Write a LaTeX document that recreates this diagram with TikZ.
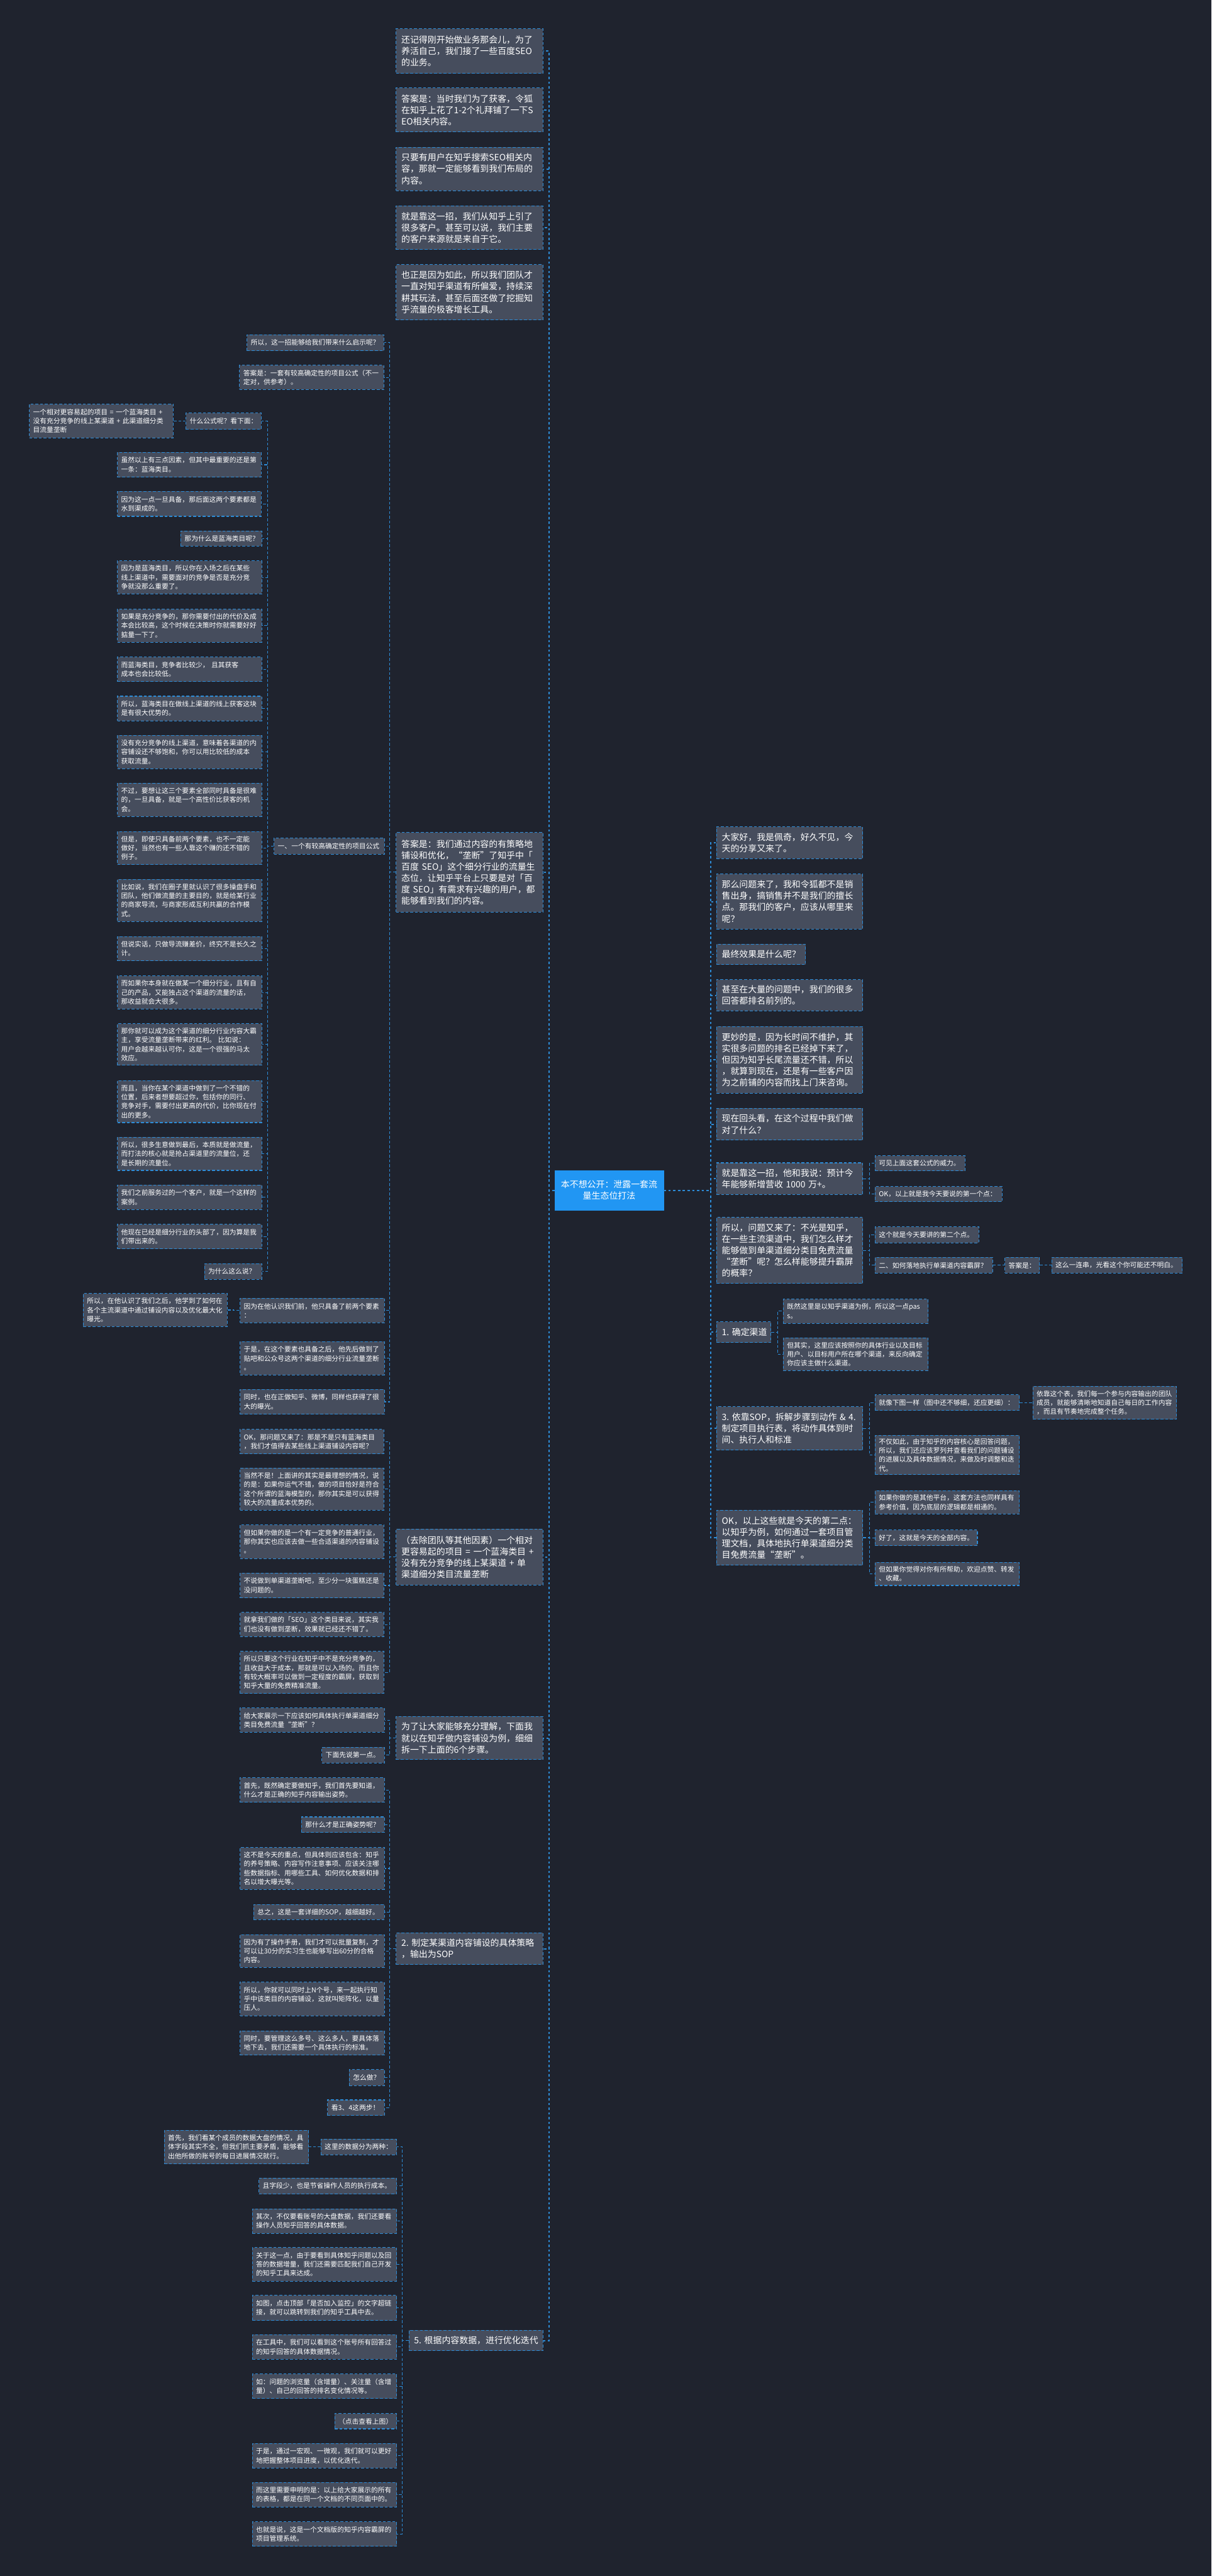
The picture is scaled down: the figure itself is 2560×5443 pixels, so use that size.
\documentclass[tikz,border=0pt]{standalone}
\usepackage{fontspec}
\setmainfont{Noto Sans CJK SC}
\definecolor{bgc}{RGB}{31,35,46}
\definecolor{nodec}{RGB}{70,77,93}
\definecolor{bordc}{RGB}{45,140,215}
\definecolor{centc}{RGB}{33,150,243}
\tikzset{
 bx/.style={draw=bordc, fill=nodec, dash pattern=on 3pt off 2pt, line width=0.7pt, text=white, align=left, inner ysep=0pt},
 l1/.style={bx, inner xsep=5.5pt, font=\fontsize{9.25pt}{12pt}\selectfont},
 l2/.style={bx, inner xsep=4pt, font=\fontsize{7.15pt}{9.5pt}\selectfont},
 cn/.style={draw=bordc, line width=0.7pt, dash pattern=on 3pt off 2pt},
 mc/.style={draw=bordc, line width=1.3pt, dash pattern=on 2.4pt off 2.6pt},
 ctr/.style={fill=centc, draw=centc, text=white, align=center, inner xsep=6pt, font=\fontsize{9.25pt}{12pt}\selectfont},
}
\newcommand\nA[6]{\pgfmathsetmacro\bw{(#4-#2)*0.5}\pgfmathsetmacro\bh{(#5-#3)*0.5}\pgfmathsetmacro\btw{\bw-11}%
\node[l1,minimum width=\bw pt,minimum height=\bh pt,text width=\btw pt] (#1) at ({(#2+#4)/2},{(#3+#5)/2}) {#6};}
\newcommand\nB[6]{\pgfmathsetmacro\bw{(#4-#2)*0.5}\pgfmathsetmacro\bh{(#5-#3)*0.5}\pgfmathsetmacro\btw{\bw-8}%
\node[l2,minimum width=\bw pt,minimum height=\bh pt,text width=\btw pt] (#1) at ({(#2+#4)/2},{(#3+#5)/2}) {#6};}
\newcommand\lk[2]{\draw[cn] (#1.west) -- ++(-13,0) |- (#2.east);}
\newcommand\rk[2]{\draw[cn] (#1.east) -- ++(13,0) |- (#2.west);}
\begin{document}
\begin{tikzpicture}[x=0.5pt,y=-0.5pt]
\useasboundingbox (0,0) rectangle (2560,5443);
\fill[bgc] (0,0) rectangle (2560,5443);
% center
\node[ctr, minimum width=115pt, minimum height=42pt, text width=103pt] (C) at (1287,2515) {本不想公开：泄露一套流\\量生态位打法};
% left level 1
\nA{L1}{837}{61}{1147}{155}{还记得刚开始做业务那会儿，为了\\养活自己，我们接了一些百度SEO\\的业务。}
\nA{L2}{837}{186}{1147}{279}{答案是：当时我们为了获客，令狐\\在知乎上花了1-2个礼拜铺了一下S\\EO相关内容。}
\nA{L3}{837}{311}{1147}{403}{只要有用户在知乎搜索SEO相关内\\容，那就一定能够看到我们布局的\\内容。}
\nA{L4}{837}{435}{1147}{527}{就是靠这一招，我们从知乎上引了\\很多客户。甚至可以说，我们主要\\的客户来源就是来自于它。}
\nA{L5}{837}{559}{1147}{676}{也正是因为如此，所以我们团队才\\一直对知乎渠道有所偏爱，持续深\\耕其玩法，甚至后面还做了挖掘知\\乎流量的极客增长工具。}
\nA{L6}{837}{1759}{1147}{1927}{答案是：我们通过内容的有策略地\\铺设和优化，“垄断”了知乎中「\\百度~SEO」这个细分行业的流量生\\态位，让知乎平台上只要是对「百\\度~SEO」有需求有兴趣的用户，都\\能够看到我们的内容。}
\nA{L7}{837}{3231}{1147}{3349}{（去除团队等其他因素）一个相对\\更容易起的项目~=~一个蓝海类目~+\\没有充分竞争的线上某渠道~+~单\\渠道细分类目流量垄断}
\nA{L8}{837}{3627}{1147}{3718}{为了让大家能够充分理解，下面我\\就以在知乎做内容铺设为例，细细\\拆一下上面的6个步骤。}
\nA{L9}{837}{4084}{1147}{4151}{2.~制定某渠道内容铺设的具体策略\\，输出为SOP}
\nA{L10}{864}{4924}{1147}{4967}{5.~根据内容数据，进行优化迭代}
% L6 children
\nB{A1}{522}{707}{811}{741}{所以，这一招能够给我们带来什么启示呢？}
\nB{A2}{506}{772}{811}{823}{答案是：一套有较高确定性的项目公式（不一\\定对，供参考）。}
\nB{A3}{579}{1771}{812}{1805}{一、一个有较高确定性的项目公式}
\nB{A4}{507}{2743}{812}{2795}{因为在他认识我们前，他只具备了前两个要素\\：}
\nB{A4a}{176}{2733}{480}{2803}{所以，在他认识了我们之后，他学到了如何在\\各个主流渠道中通过铺设内容以及优化最大化\\曝光。}
\nB{A5}{507}{2835}{812}{2905}{于是，在这个要素也具备之后，他先后做到了\\贴吧和公众号这两个渠道的细分行业流量垄断\\。}
\nB{A6}{507}{2936}{812}{2988}{同时，也在正做知乎、微博，同样也获得了很\\大的曝光。}
% A3 children
\nB{B1}{393}{873}{552}{907}{什么公式呢？看下面：}
\nB{B1a}{62}{854}{366}{925}{一个相对更容易起的项目~=~一个蓝海类目~+\\没有充分竞争的线上某渠道~+~此渠道细分类\\目流量垄断}
\nB{B2}{248}{956}{552}{1008}{虽然以上有三点因素，但其中最重要的还是第\\一条：蓝海类目。}
\nB{B3}{248}{1038}{552}{1091}{因为这一点一旦具备，那后面这两个要素都是\\水到渠成的。}
\nB{B4}{382}{1122}{553}{1154}{那为什么是蓝海类目呢？}
\nB{B5}{248}{1185}{553}{1255}{因为是蓝海类目，所以你在入场之后在某些\\线上渠道中，需要面对的竞争是否是充分竞\\争就没那么重要了。}
\nB{B6}{248}{1287}{553}{1357}{如果是充分竞争的，那你需要付出的代价及成\\本会比较高，这个时候在决策时你就需要好好\\掂量一下了。}
\nB{B7}{248}{1388}{553}{1440}{而蓝海类目，竞争者比较少，\ 且其获客\\成本也会比较低。}
\nB{B8}{248}{1471}{553}{1523}{所以，蓝海类目在做线上渠道的线上获客这块\\是有很大优势的。}
\nB{B9}{248}{1554}{553}{1624}{没有充分竞争的线上渠道，意味着各渠道的内\\容铺设还不够饱和，你可以用比较低的成本\\获取流量。}
\nB{B10}{248}{1655}{553}{1725}{不过，要想让这三个要素全部同时具备是很难\\的，一旦具备，就是一个高性价比获客的机\\会。}
\nB{B11}{248}{1757}{553}{1827}{但是，即使只具备前两个要素，也不一定能\\做好，当然也有一些人靠这个赚的还不错的\\例子。}
\nB{B12}{248}{1858}{553}{1947}{比如说，我们在圈子里就认识了很多操盘手和\\团队，他们做流量的主要目的，就是给某行业\\的商家导流，与商家形成互利共赢的合作模\\式。}
\nB{B13}{248}{1979}{553}{2030}{但说实话，只做导流赚差价，终究不是长久之\\计。}
\nB{B14}{248}{2062}{553}{2132}{而如果你本身就在做某一个细分行业，且有自\\己的产品，又能独占这个渠道的流量的话，\\那收益就会大很多。}
\nB{B15}{248}{2163}{553}{2251}{那你就可以成为这个渠道的细分行业内容大霸\\主，享受流量垄断带来的红利。\ 比如说：\\用户会越来越认可你，这是一个很强的马太\\效应。}
\nB{B16}{248}{2283}{553}{2372}{而且，当你在某个渠道中做到了一个不错的\\位置，后来者想要超过你，包括你的同行、\\竞争对手，需要付出更高的代价，比你现在付\\出的更多。}
\nB{B17}{248}{2403}{553}{2473}{所以，很多生意做到最后，本质就是做流量，\\而打法的核心就是抢占渠道里的流量位，还\\是长期的流量位。}
\nB{B18}{248}{2504}{553}{2556}{我们之前服务过的一个客户，就是一个这样的\\案例。}
\nB{B19}{248}{2587}{553}{2639}{他现在已经是细分行业的头部了，因为算是我\\们带出来的。}
\nB{B20}{432}{2670}{553}{2703}{为什么这么说？}
% L7 children
\nB{C1}{507}{3020}{811}{3072}{OK，那问题又来了：那是不是只有蓝海类目\\，我们才值得去某些线上渠道铺设内容呢？}
\nB{C2}{507}{3102}{811}{3191}{当然不是！上面讲的其实是最理想的情况，说\\的是：如果你运气不错，做的项目恰好是符合\\这个所谓的蓝海模型的，那你其实是可以获得\\较大的流量成本优势的。}
\nB{C3}{507}{3222}{811}{3293}{但如果你做的是一个有一定竞争的普通行业，\\那你其实也应该去做一些合适渠道的内容铺设\\。}
\nB{C4}{507}{3324}{811}{3376}{不说做到单渠道垄断吧，至少分一块蛋糕还是\\没问题的。}
\nB{C5}{507}{3407}{811}{3458}{就拿我们做的「SEO」这个类目来说，其实我\\们也没有做到垄断，效果就已经还不错了。}
\nB{C6}{507}{3489}{811}{3578}{所以只要这个行业在知乎中不是充分竞争的，\\且收益大于成本，那就是可以入场的。而且你\\有较大概率可以做到一定程度的霸屏，获取到\\知乎大量的免费精准流量。}
% L8 children
\nB{D1}{507}{3609}{812}{3660}{给大家展示一下应该如何具体执行单渠道细分\\类目免费流量“垄断”？}
\nB{D2}{680}{3692}{812}{3725}{下面先说第一点。}
% L9 children
\nB{E1}{507}{3756}{812}{3808}{首先，既然确定要做知乎，我们首先要知道，\\什么才是正确的知乎内容输出姿势。}
\nB{E2}{637}{3839}{812}{3872}{那什么才是正确姿势呢？}
\nB{E3}{507}{3904}{812}{3992}{这不是今天的重点，但具体则应该包含：知乎\\的养号策略、内容写作注意事项、应该关注哪\\些数据指标、用哪些工具、如何优化数据和排\\名以增大曝光等。}
\nB{E4}{536}{4024}{812}{4056}{总之，这是一套详细的SOP，越细越好。}
\nB{E5}{507}{4088}{812}{4157}{因为有了操作手册，我们才可以批量复制，才\\可以让30分的实习生也能够写出60分的合格\\内容。}
\nB{E6}{507}{4188}{812}{4259}{所以，你就可以同时上N个号，来一起执行知\\乎中该类目的内容铺设，这就叫矩阵化，以量\\压人。}
\nB{E7}{507}{4291}{812}{4342}{同时，要管理这么多号、这么多人，要具体落\\地下去，我们还需要一个具体执行的标准。}
\nB{E8}{738}{4373}{812}{4407}{怎么做？}
\nB{E9}{692}{4437}{812}{4470}{看3、4这两步！}
% L10 children
\nB{F1}{678}{4520}{838}{4553}{这里的数据分为两种：}
\nB{F1a}{347}{4501}{652}{4572}{首先，我们看某个成员的数据大盘的情况，具\\体字段其实不全，但我们抓主要矛盾，能够看\\出他所做的账号的每日进展情况就行。}
\nB{F2}{547}{4602}{838}{4636}{且字段少，也是节省操作人员的执行成本。}
\nB{F3}{533}{4667}{838}{4719}{其次，不仅要看账号的大盘数据，我们还要看\\操作人员知乎回答的具体数据。}
\nB{F4}{533}{4749}{838}{4820}{关于这一点，由于要看到具体知乎问题以及回\\答的数据增量，我们还需要匹配我们自己开发\\的知乎工具来达成。}
\nB{F5}{533}{4850}{838}{4903}{如图，点击顶部「是否加入监控」的文字超链\\接，就可以跳转到我们的知乎工具中去。}
\nB{F6}{533}{4933}{838}{4985}{在工具中，我们可以看到这个账号所有回答过\\的知乎回答的具体数据情况。}
\nB{F7}{533}{5016}{838}{5068}{如：问题的浏览量（含增量）、关注量（含增\\量）、自己的回答的排名变化情况等。}
\nB{F8}{707}{5100}{838}{5132}{（点击查看上图）}
\nB{F9}{533}{5163}{838}{5215}{于是，通过一宏观、一微观，我们就可以更好\\地把握整体项目进度，以优化迭代。}
\nB{F10}{533}{5245}{838}{5297}{而这里需要申明的是：以上给大家展示的所有\\的表格，都是在同一个文档的不同页面中的。}
\nB{F11}{533}{5328}{838}{5380}{也就是说，这是一个文档版的知乎内容霸屏的\\项目管理系统。}
% right level 1
\nA{R1}{1514}{1747}{1823}{1814}{大家好，我是佩奇，好久不见，今\\天的分享又来了。}
\nA{R2}{1514}{1847}{1823}{1963}{那么问题来了，我和令狐都不是销\\售出身，搞销售并不是我们的擅长\\点。那我们的客户，应该从哪里来\\呢？}
\nA{R3}{1514}{1995}{1702}{2038}{最终效果是什么呢？}
\nA{R4}{1514}{2070}{1823}{2136}{甚至在大量的问题中，我们的很多\\回答都排名前列的。}
\nA{R5}{1514}{2169}{1823}{2310}{更妙的是，因为长时间不维护，其\\实很多问题的排名已经掉下来了，\\但因为知乎长尾流量还不错，所以\\，就算到现在，还是有一些客户因\\为之前铺的内容而找上门来咨询。}
\nA{R6}{1514}{2342}{1823}{2409}{现在回头看，在这个过程中我们做\\对了什么？}
\nA{R7}{1514}{2457}{1823}{2524}{就是靠这一招，他和我说：预计今\\年能够新增营收~1000~万+。}
\nA{R8}{1514}{2572}{1823}{2712}{所以，问题又来了：不光是知乎，\\在一些主流渠道中，我们怎么样才\\能够做到单渠道细分类目免费流量\\“垄断”呢？怎么样能够提升霸屏\\的概率？}
\nA{R9}{1514}{2793}{1629}{2837}{1.~确定渠道}
\nA{R10}{1514}{2972}{1823}{3064}{3.~依靠SOP，拆解步骤到动作~\&~4.\\制定项目执行表，将动作具体到时\\间、执行人和标准}
\nA{R11}{1514}{3191}{1823}{3307}{OK，以上这些就是今天的第二点：\\以知乎为例，如何通过一套项目管\\理文档，具体地执行单渠道细分类\\目免费流量“垄断”。}
% right children
\nB{R7a}{1849}{2442}{2039}{2474}{可见上面这套公式的威力。}
\nB{R7b}{1849}{2507}{2117}{2539}{OK，以上就是我今天要说的第一个点：}
\nB{R8a}{1849}{2592}{2068}{2626}{这个就是今天要讲的第二个点。}
\nB{R8b}{1849}{2657}{2097}{2690}{二、如何落地执行单渠道内容霸屏？}
\nB{R8c}{2123}{2657}{2196}{2690}{答案是：}
\nB{R8d}{2222}{2657}{2498}{2690}{这么一连串，光看这个你可能还不明白。}
\nB{R9a}{1655}{2745}{1961}{2796}{既然这里是以知乎渠道为例，所以这一点pas\\s。}
\nB{R9b}{1655}{2827}{1961}{2896}{但其实，这里应该按照你的具体行业以及目标\\用户、以目标用户所在哪个渠道，来反向确定\\你应该主做什么渠道。}
\nB{R10a}{1849}{2947}{2154}{2980}{就像下图一样（图中还不够细，还应更细）：}
\nB{R10aa}{2182}{2929}{2486}{2999}{依靠这个表，我们每一个参与内容输出的团队\\成员，就能够清晰地知道自己每日的工作内容\\，而且有节奏地完成整个任务。}
\nB{R10b}{1849}{3033}{2154}{3116}{不仅如此，由于知乎的内容核心是回答问题，\\所以，我们还应该罗列并查看我们的问题铺设\\的进展以及具体数据情况，来做及时调整和迭\\代。}
\nB{R11a}{1849}{3150}{2154}{3199}{如果你做的是其他平台，这套方法也同样具有\\参考价值，因为底层的逻辑都是相通的。}
\nB{R11b}{1849}{3233}{2065}{3266}{好了，这就是今天的全部内容。}
\nB{R11c}{1849}{3301}{2154}{3350}{但如果你觉得对你有所帮助，欢迎点赞、转发\\、收藏。}
% main connectors
\foreach \n in {L1,L2,L3,L4,L5,L6,L7,L8,L9,L10} {\draw[mc] (C.west) -- ++(-12,0) |- (\n.east);}
\foreach \n in {R1,R2,R3,R4,R5,R6,R7,R8,R9,R10,R11} {\draw[mc] (C.east) -- ++(99,0) |- (\n.west);}
% left connectors
\foreach \n in {A1,A2,A3,A4,A5,A6} {\lk{L6}{\n}}
\lk{A4}{A4a}
\foreach \n in {B1,B2,B3,B4,B5,B6,B7,B8,B9,B10,B11,B12,B13,B14,B15,B16,B17,B18,B19,B20} {\lk{A3}{\n}}
\lk{B1}{B1a}
\foreach \n in {C1,C2,C3,C4,C5,C6} {\lk{L7}{\n}}
\foreach \n in {D1,D2} {\lk{L8}{\n}}
\foreach \n in {E1,E2,E3,E4,E5,E6,E7,E8,E9} {\lk{L9}{\n}}
\foreach \n in {F1,F2,F3,F4,F5,F6,F7,F8,F9,F10,F11} {\lk{L10}{\n}}
\lk{F1}{F1a}
% right connectors
\foreach \n in {R7a,R7b} {\rk{R7}{\n}}
\foreach \n in {R8a,R8b} {\rk{R8}{\n}}
\rk{R8b}{R8c}
\rk{R8c}{R8d}
\foreach \n in {R9a,R9b} {\rk{R9}{\n}}
\foreach \n in {R10a,R10b} {\rk{R10}{\n}}
\rk{R10a}{R10aa}
\foreach \n in {R11a,R11b,R11c} {\rk{R11}{\n}}
\end{tikzpicture}
\end{document}
